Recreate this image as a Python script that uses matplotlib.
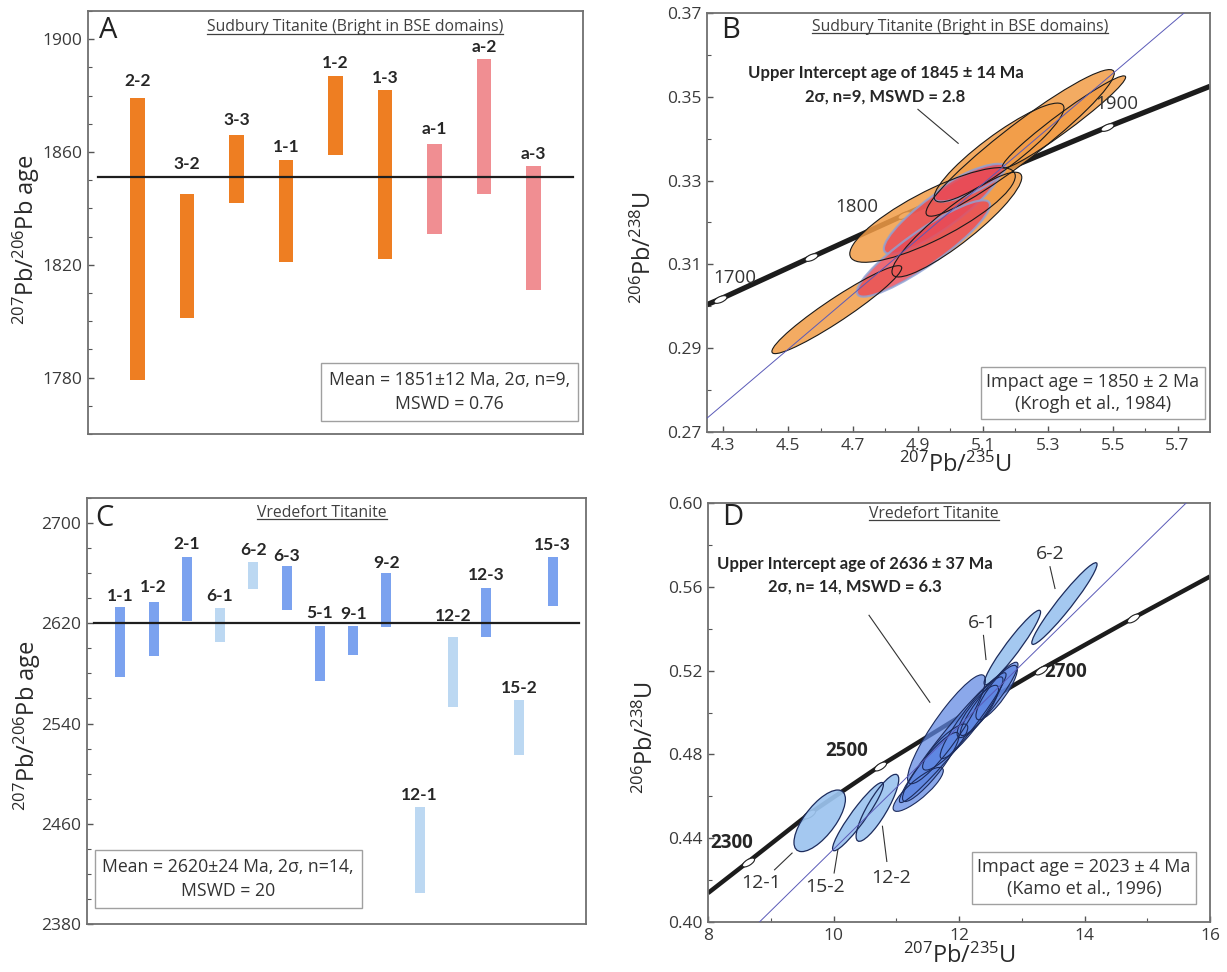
import numpy as np
import matplotlib
matplotlib.use('Agg')
import matplotlib.pyplot as plt
from matplotlib.patches import Ellipse
from matplotlib.markers import MarkerStyle
from matplotlib.transforms import Affine2D
from matplotlib.lines import Line2D

plt.rcParams['font.family'] = ['Open Sans', 'DejaVu Sans']
plt.rcParams['mathtext.fontset'] = 'custom'
plt.rcParams['mathtext.rm'] = 'Open Sans'
plt.rcParams['mathtext.it'] = 'Open Sans:italic'
plt.rcParams['mathtext.bf'] = 'Open Sans:bold'

# ---------------- Panel A data: Sudbury 207Pb/206Pb ages (2 sigma ranges)
a_labels = ['2-2', '3-2', '3-3', '1-1', '1-2', '1-3', 'a-1', 'a-2', 'a-3']
a_low = [1779, 1801, 1842, 1821, 1859, 1822, 1831, 1845, 1811]
a_high = [1879, 1845, 1866, 1857, 1887, 1882, 1863, 1893, 1855]
a_group = ['core', 'core', 'core', 'core', 'core', 'core', 'rim', 'rim', 'rim']
a_mean = 1851
a_yticks = [1780, 1820, 1860, 1900]

# ---------------- Panel C data: Vredefort 207Pb/206Pb ages
c_labels = ['1-1', '1-2', '2-1', '6-1', '6-2', '6-3', '5-1', '9-1', '9-2',
            '12-1', '12-2', '12-3', '15-2', '15-3']
c_low = [2577, 2594, 2622, 2605, 2647, 2631, 2574, 2595, 2617, 2405, 2553, 2609, 2515, 2634]
c_high = [2633, 2637, 2673, 2632, 2669, 2666, 2618, 2618, 2660, 2473, 2609, 2648, 2559, 2673]
c_group = ['dark', 'dark', 'dark', 'light', 'light', 'dark', 'dark', 'dark', 'dark',
           'light', 'light', 'dark', 'light', 'dark']
c_mean = 2620
c_yticks = [2380, 2460, 2540, 2620, 2700]

# ---------------- Panel B data: concordia and ellipses
b_conc_x = [4.25, 4.29, 4.571, 4.858, 5.165, 5.484, 5.80]
b_conc_y = [0.3004, 0.3017, 0.3117, 0.3218, 0.3325, 0.3428, 0.3525]
b_tick_age = [1700, 1750, 1800, 1850, 1900]
b_tick_x = [4.29, 4.571, 4.858, 5.165, 5.484]
b_tick_y = [0.3017, 0.3117, 0.3218, 0.3325, 0.3428]
b_disc_x = [4.25, 5.72]
b_disc_y = [0.2733, 0.37]
# orange ellipses: 207/235, 206/238, 2s errors, rho
bo_x = [4.65, 4.945, 5.215, 5.15, 5.35, 5.02]
bo_y = [0.2992, 0.3218, 0.339, 0.3367, 0.344, 0.3195]
bo_ex = [0.20, 0.255, 0.29, 0.20, 0.19, 0.20]
bo_ey = [0.0105, 0.0113, 0.0175, 0.0118, 0.011, 0.0125]
bo_rho = [0.95, 0.82, 0.95, 0.90, 0.97, 0.90]
# red ellipses
br_x = [4.975, 4.917, 5.06]
br_y = [0.323, 0.3138, 0.3295]
br_ex = [0.18, 0.205, 0.11]
br_ey = [0.0105, 0.0115, 0.0045]
br_rho = [0.88, 0.90, 0.80]

# ---------------- Panel D data
d_conc_x = [8.0, 8.643, 9.606, 10.74, 11.95, 13.30, 14.77, 16.0]
d_conc_y = [0.4138, 0.4288, 0.4515, 0.4745, 0.4968, 0.5205, 0.5450, 0.5649]
d_tick_age = [2300, 2400, 2500, 2700, 2800]
d_tick_x = [8.643, 9.606, 10.74, 13.30, 14.77]
d_tick_y = [0.4288, 0.4515, 0.4745, 0.5205, 0.5450]
d_disc_x = [8.82, 15.62]
d_disc_y = [0.40, 0.60]
# light ellipses (6-1, 6-2, 12-1, 12-2, 15-2)
dl_names = ['6-1', '6-2', '12-1', '12-2', '15-2']
dl_x = [12.85, 13.68, 9.78, 10.70, 10.39]
dl_y = [0.531, 0.552, 0.4483, 0.4545, 0.4503]
dl_ex = [0.45, 0.52, 0.41, 0.34, 0.405]
dl_ey = [0.0178, 0.0195, 0.0147, 0.016, 0.0163]
dl_rho = [0.95, 0.96, 0.70, 0.85, 0.934]
# darker cluster ellipses
dd_x = [11.80, 11.35, 11.78, 12.30, 12.48, 11.90, 12.20, 11.55, 12.60]
dd_y = [0.492, 0.4633, 0.4835, 0.5005, 0.5065, 0.488, 0.4975, 0.474, 0.5095]
dd_ex = [0.62, 0.40, 0.36, 0.33, 0.46, 0.85, 0.50, 0.45, 0.33]
dd_ey = [0.026, 0.0105, 0.011, 0.0125, 0.0175, 0.031, 0.0195, 0.0165, 0.013]
dd_rho = [0.90, 0.85, 0.85, 0.85, 0.93, 0.97, 0.93, 0.90, 0.85]

TXT = '#333333'
W, H = 1227, 972
fig = plt.figure(figsize=(W / 100, H / 100), dpi=100)


def add_ax(l, t, r, b):
    return fig.add_axes([l / W, 1 - b / H, (r - l) / W, (b - t) / H])


axA = add_ax(88, 11, 583, 434)
axB = add_ax(707, 13, 1210, 432)
axC = add_ax(87, 498, 586, 924)
axD = add_ax(708, 503, 1210, 922)


def style(ax):
    for s in ax.spines.values():
        s.set_color('#707070')
        s.set_linewidth(1.3)
    ax.tick_params(which='both', direction='in', colors='#555555', labelcolor='#3a3a3a',
                   labelsize=12.5, pad=4, top=False, right=False)
    ax.tick_params(which='major', length=4, width=1)
    ax.tick_params(which='minor', length=3, width=0.8)


titles = []


def bar_panel(ax, labels, low, high, group, colors, mean, yl, yticks, minor, offs, letter, title,
              title_pos, letter_pos, box_text, box_pos, ylab_pos):
    n = len(labels)
    x = np.arange(1, n + 1)
    lo = np.array(low, float)
    hi = np.array(high, float)
    ax.bar(x, hi - lo, bottom=lo, width=0.3, color=[colors[g] for g in group], zorder=2)
    ax.plot([0.2, n + 0.8], [mean, mean], color='#1e1e1e', lw=1.6, zorder=3)
    for xi, h, lab, off in zip(x, hi, labels, offs):
        ax.annotate(lab, (xi, h), xytext=(0, off * 0.72), textcoords='offset points',
                    ha='center', va='center', fontsize=12.5, fontweight='bold',
                    family=['Lato', 'DejaVu Sans'], color='#262626')
    ax.set_xlim(0, n + 1)
    ax.set_ylim(*yl)
    ax.set_xticks([])
    ax.set_yticks(yticks)
    ax.set_yticks(np.arange(yl[0], yl[1] + 0.1, minor), minor=True)
    style(ax)
    ax.text(*letter_pos, letter, transform=ax.transAxes, fontsize=21, color='#222',
            ha='center', va='center')
    t = ax.text(*title_pos, title, transform=ax.transAxes, fontsize=11.3, color='#404040',
                ha='center', va='center')
    titles.append(t)
    ax.text(*box_pos, box_text, transform=ax.transAxes, fontsize=12.7, color=TXT,
            ha='center', va='center', linespacing=1.45,
            bbox=dict(boxstyle='square,pad=0.45', fc='white', ec='#a0a0a0', lw=1))
    ax.text(*ylab_pos, r'$^{207}$Pb/$^{206}$Pb age', transform=ax.transAxes, rotation=90,
            fontsize=17, color='#2a2a2a', ha='center', va='center')


bar_panel(axA, a_labels, a_low, a_high, a_group, {'core': '#EE7E22', 'rim': '#F08E92'},
          a_mean, (1760, 1910), a_yticks, 10, [17, 30, 15, 13, 13, 12, 15, 12, 12],
          'A', 'Sudbury Titanite (Bright in BSE domains)', (0.54, 0.962), (0.04, 0.955),
          'Mean = 1851±12 Ma, 2σ, n=9,\nMSWD = 0.76', (0.73, 0.10), (-0.125, 0.46))

bar_panel(axC, c_labels, c_low, c_high, c_group, {'dark': '#7BA2EF', 'light': '#BCD8F2'},
          c_mean, (2380, 2720), c_yticks, 20, [11, 15, 13, 12, 12, 10, 13, 12, 10, 12, 21, 13, 12, 12],
          'C', 'Vredefort Titanite', (0.471, 0.965), (0.034, 0.953),
          'Mean = 2620±24 Ma, 2σ, n=14,\nMSWD = 20', (0.283, 0.106), (-0.12, 0.465))


def cov_ellipse(ax, x, y, ex, ey, rho, **kw):
    cov = np.array([[ex * ex, rho * ex * ey], [rho * ex * ey, ey * ey]])
    vals, vecs = np.linalg.eigh(cov)
    ang = np.degrees(np.arctan2(vecs[1, 1], vecs[0, 1]))
    e = Ellipse((x, y), 2 * np.sqrt(vals[1]), 2 * np.sqrt(vals[0]), angle=ang, **kw)
    ax.add_patch(e)
    return e


def conc_ticks(ax, xs, ys, cx, cy, lw):
    p = ax.transData.transform(np.column_stack([cx, cy]))
    ang = np.degrees(np.arctan2(p[-1, 1] - p[0, 1], p[-1, 0] - p[0, 0]))
    m = MarkerStyle('o', transform=Affine2D().scale(1.0, 0.42).rotate_deg(ang))
    ax.plot(cx, cy, color='#1c1c1c', lw=lw, zorder=2, solid_capstyle='butt')
    ax.plot(xs, ys, ls='none', marker=m, ms=10, mfc='white', mec='#222', mew=0.8, zorder=2.5)


# ---------------- Panel B
axB.set_xlim(4.25, 5.80)
axB.set_ylim(0.27, 0.37)
conc_ticks(axB, b_tick_x, b_tick_y, b_conc_x, b_conc_y, 3.8)
for i in range(len(bo_x)):
    cov_ellipse(axB, bo_x[i], bo_y[i], bo_ex[i], bo_ey[i], bo_rho[i],
                fc='#F29C46', ec='none', alpha=0.85, zorder=3)
for i in range(len(br_x)):
    cov_ellipse(axB, br_x[i], br_y[i], br_ex[i], br_ey[i], br_rho[i],
                fc='#E84A58', ec='#8EA3D6', lw=1.6, alpha=0.82, zorder=4)
for i in range(len(bo_x)):
    cov_ellipse(axB, bo_x[i], bo_y[i], bo_ex[i], bo_ey[i], bo_rho[i],
                fc='none', ec='#1a1a1a', lw=0.8, zorder=5)
axB.plot(b_disc_x, b_disc_y, color='#5a5ab8', lw=0.7, zorder=6)
axB.set_xticks(np.arange(4.3, 5.75, 0.2))
axB.set_xticklabels(['4.3', '4.5', '4.7', '4.9', '5.1', '5.3', '5.5', '5.7'])
axB.set_xticks(np.arange(4.4, 5.8, 0.2), minor=True)
axB.set_yticks(np.arange(0.27, 0.3701, 0.02))
axB.set_yticklabels(['0.27', '0.29', '0.31', '0.33', '0.35', '0.37'])
axB.set_yticks(np.arange(0.28, 0.37, 0.02), minor=True)
style(axB)
axB.text(0.046, 0.959, 'B', transform=axB.transAxes, fontsize=21, color='#222', ha='center', va='center')
titles.append(axB.text(0.503, 0.967, 'Sudbury Titanite (Bright in BSE domains)', transform=axB.transAxes,
                       fontsize=11.3, color='#404040', ha='center', va='center'))
axB.text(4.80, 0.3557, 'Upper Intercept age of 1845 ± 14 Ma', fontsize=12, fontweight='bold',
         family=['Lato', 'DejaVu Sans'], color='#262626', ha='center', va='center')
axB.text(4.80, 0.3500, '2σ, n=9, MSWD = 2.8', fontsize=12, fontweight='bold',
         family=['Lato', 'DejaVu Sans'], color='#262626', ha='center', va='center')
axB.plot([4.90, 5.024], [0.347, 0.3389], color='#333', lw=0.8, zorder=6)
axB.text(4.335, 0.3068, '1700', fontsize=13.5, color=TXT, ha='center', va='center', zorder=7)
axB.text(4.712, 0.3236, '1800', fontsize=13.5, color=TXT, ha='center', va='center', zorder=7)
axB.text(5.512, 0.3482, '1900', fontsize=13.5, color=TXT, ha='center', va='center', zorder=7)
axB.text(0.767, 0.093, 'Impact age = 1850 ± 2 Ma\n(Krogh et al., 1984)', transform=axB.transAxes,
         fontsize=13, color=TXT, ha='center', va='center', linespacing=1.35,
         bbox=dict(boxstyle='square,pad=0.3', fc='white', ec='#a0a0a0', lw=1))
axB.text(-0.125, 0.44, r'$^{206}$Pb/$^{238}$U', transform=axB.transAxes, rotation=90,
         fontsize=17, color='#2a2a2a', ha='center', va='center')
axB.text(0.493, -0.079, r'$^{207}$Pb/$^{235}$U', transform=axB.transAxes,
         fontsize=17, color='#2a2a2a', ha='center', va='center')

# ---------------- Panel D
axD.set_xlim(8, 16)
axD.set_ylim(0.40, 0.60)
conc_ticks(axD, d_tick_x, d_tick_y, d_conc_x, d_conc_y, 3.2)
for i in range(len(dl_x)):
    cov_ellipse(axD, dl_x[i], dl_y[i], dl_ex[i], dl_ey[i], dl_rho[i],
                fc='#9CC4EF', ec='none', alpha=0.92, zorder=3)
for i in range(len(dd_x)):
    cov_ellipse(axD, dd_x[i], dd_y[i], dd_ex[i], dd_ey[i], dd_rho[i],
                fc='#5F87E2', ec='none', alpha=0.72, zorder=3.5)
for i in range(len(dl_x)):
    cov_ellipse(axD, dl_x[i], dl_y[i], dl_ex[i], dl_ey[i], dl_rho[i],
                fc='none', ec='#1c2b5c', lw=0.9, zorder=5)
for i in range(len(dd_x)):
    cov_ellipse(axD, dd_x[i], dd_y[i], dd_ex[i], dd_ey[i], dd_rho[i],
                fc='none', ec='#1c2b5c', lw=0.8, zorder=5)
axD.plot(d_disc_x, d_disc_y, color='#5a5ab8', lw=0.7, zorder=6)
axD.set_xticks([8, 10, 12, 14, 16])
axD.set_xticks([9, 11, 13, 15], minor=True)
axD.set_yticks(np.arange(0.40, 0.601, 0.04))
axD.set_yticklabels(['0.40', '0.44', '0.48', '0.52', '0.56', '0.60'])
axD.set_yticks(np.arange(0.42, 0.60, 0.04), minor=True)
style(axD)
axD.text(0.05, 0.965, 'D', transform=axD.transAxes, fontsize=21, color='#222', ha='center', va='center')
titles.append(axD.text(0.45, 0.974, 'Vredefort Titanite', transform=axD.transAxes,
                       fontsize=11.3, color='#404040', ha='center', va='center'))
axD.text(10.34, 0.5708, 'Upper Intercept age of 2636 ± 37 Ma', fontsize=12, fontweight='bold',
         family=['Lato', 'DejaVu Sans'], color='#262626', ha='center', va='center')
axD.text(10.34, 0.5600, '2σ, n= 14, MSWD = 6.3', fontsize=12, fontweight='bold',
         family=['Lato', 'DejaVu Sans'], color='#262626', ha='center', va='center')
axD.plot([10.566, 11.535], [0.5464, 0.5049], color='#333', lw=0.8, zorder=6)
for lab, tx, ty in [('2300', 8.37, 0.4377), ('2500', 10.21, 0.4817), ('2700', 13.70, 0.5193)]:
    axD.text(tx, ty, lab, fontsize=13.5, fontweight='bold', color='#262626', ha='center', va='center')
leaders = [('6-2', (13.45, 0.5755), (13.45, 0.5696), (13.53, 0.5592)),
           ('6-1', (12.37, 0.5429), (12.39, 0.5368), (12.43, 0.5253)),
           ('12-1', (8.845, 0.4186), (9.06, 0.4249), (9.34, 0.4329)),
           ('15-2', (9.865, 0.4169), (10.01, 0.4234), (10.07, 0.4345)),
           ('12-2', (10.92, 0.4210), (10.85, 0.4289), (10.78, 0.4457))]
for lab, tp, p0, p1 in leaders:
    axD.text(*tp, lab, fontsize=14, color=TXT, ha='center', va='center')
    axD.plot([p0[0], p1[0]], [p0[1], p1[1]], color='#333', lw=0.8, zorder=6)
axD.text(0.749, 0.105, 'Impact age = 2023 ± 4 Ma\n(Kamo et al., 1996)', transform=axD.transAxes,
         fontsize=13, color=TXT, ha='center', va='center', linespacing=1.35,
         bbox=dict(boxstyle='square,pad=0.3', fc='white', ec='#a0a0a0', lw=1))
axD.text(-0.122, 0.44, r'$^{206}$Pb/$^{238}$U', transform=axD.transAxes, rotation=90,
         fontsize=17, color='#2a2a2a', ha='center', va='center')
axD.text(0.5, -0.083, r'$^{207}$Pb/$^{235}$U', transform=axD.transAxes,
         fontsize=17, color='#2a2a2a', ha='center', va='center')

# underline the panel titles
fig.canvas.draw()
r = fig.canvas.get_renderer()
inv = fig.transFigure.inverted()
for t in titles:
    bb = t.get_window_extent(r)
    (x0, y0), (x1, _) = inv.transform([(bb.x0, bb.y0 + 1.5), (bb.x1, bb.y0 + 1.5)])
    fig.add_artist(Line2D([x0, x1], [y0, y0], transform=fig.transFigure, color='#404040', lw=0.9))

fig.savefig('out.png', dpi=100)
